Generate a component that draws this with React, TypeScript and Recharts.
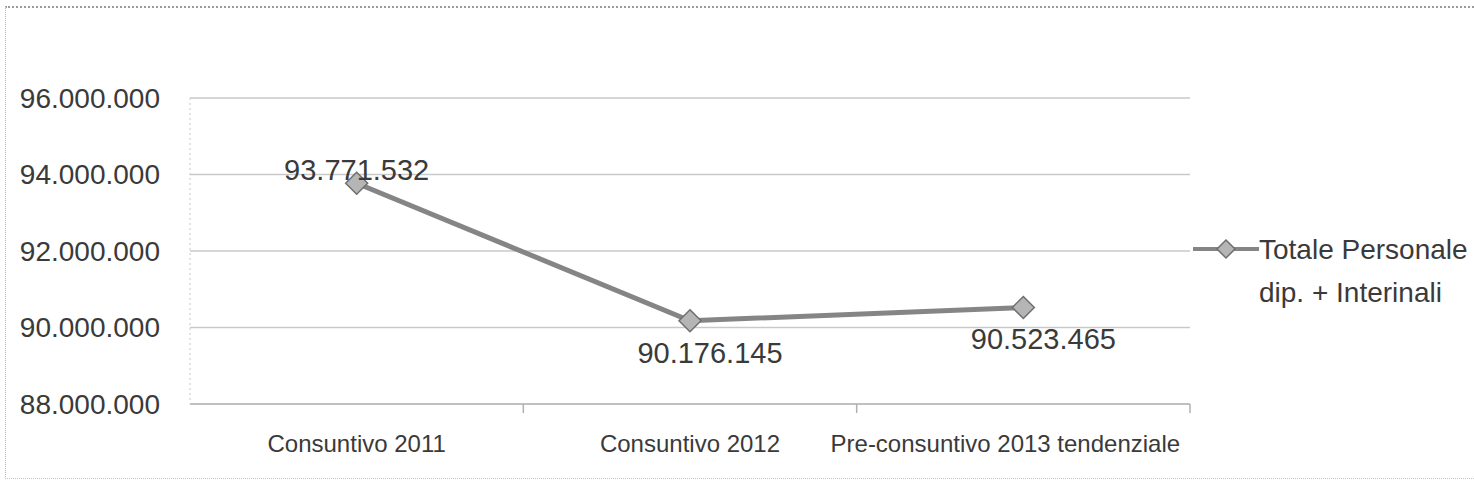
import {
  LineChart,
  Line,
  XAxis,
  YAxis,
  CartesianGrid,
  Legend,
  LabelList,
} from "recharts";

const categories = ["Consuntivo 2011", "Consuntivo 2012", "Pre-consuntivo 2013 tendenziale"];
const totals = [93771532, 90176145, 90523465];
const yTicks = [88000000, 90000000, 92000000, 94000000, 96000000];
const xTicks = [0, 0.5, 1, 1.5, 2, 2.5, 3];
const seriesName = "Totale Personale dip. + Interinali";
const legendLines = ["Totale Personale", "dip. + Interinali"];

const data = categories.map((cat, i) => ({ cat, pos: i + 0.5, value: totals[i] }));

const TEXT = "#3a3a3a";
const LINE = "#858585";
const GRID = "#c9c9c9";
const NUM_FONT = "'Liberation Sans', Arial, sans-serif";

function formatIt(v: number): string {
  return Math.round(v)
    .toString()
    .replace(/\B(?=(\d{3})+(?!\d))/g, ".");
}

function Diamond({ cx, cy, size = 11 }: { cx?: number; cy?: number; size?: number }) {
  if (cx == null || cy == null) return null;
  const s = size;
  const pts = `${cx},${cy - s} ${cx + s},${cy} ${cx},${cy + s} ${cx - s},${cy}`;
  return <polygon points={pts} fill="#b5b5b5" stroke="#6f6f6f" strokeWidth={1.5} />;
}

function XTick(props: any) {
  const { x, y, payload } = props;
  const v = payload.value as number;
  if (Number.isInteger(v)) {
    if (v === 0) return null;
    return <line x1={x} y1={y} x2={x} y2={y + 9} stroke="#b0b0b0" strokeWidth={1.5} />;
  }
  const label = categories[Math.floor(v)];
  // the long last label sits a bit left of its slot in the original
  const shift = label.length > 20 ? -18 : 0;
  return (
    <text
      x={x + shift}
      y={y + 48}
      textAnchor="middle"
      fontFamily={NUM_FONT}
      fontSize={24}
      fill={TEXT}
    >
      {label}
    </text>
  );
}

function ValueLabel(props: any) {
  const { x, y, value, index } = props;
  const above = index === 0;
  return (
    <text
      x={x + (above ? 0 : 20)}
      y={above ? y - 3 : y + 42}
      textAnchor="middle"
      fontFamily={NUM_FONT}
      fontSize={29}
      fill={TEXT}
    >
      {formatIt(Number(value))}
    </text>
  );
}

function LegendBox() {
  return (
    <div style={{ display: "flex", alignItems: "flex-start", fontFamily: NUM_FONT, color: TEXT }}>
      <svg width={66} height={30}>
        <line x1={0} y1={15} x2={66} y2={15} stroke={LINE} strokeWidth={4} />
        <Diamond cx={33} cy={15} size={9} />
      </svg>
      <div style={{ fontSize: 28, lineHeight: "43px", marginTop: -6, whiteSpace: "nowrap" }}>
        <div>{legendLines[0]}</div>
        <div>{legendLines[1]}</div>
      </div>
    </div>
  );
}

export default function App() {
  return (
    <div
      style={{
        position: "absolute",
        left: 0,
        top: 0,
        width: 1474,
        height: 495,
        background: "#fff",
        overflow: "hidden",
      }}
    >
      <div
        style={{
          position: "absolute",
          left: 5,
          top: 6,
          width: 1480,
          height: 470,
          borderTop: "2px dotted #9a9a9a",
          borderLeft: "1px dotted #b5b5b5",
          borderBottom: "1px dotted #c5c5c5",
        }}
      />
      <LineChart
        width={1474}
        height={495}
        data={data}
        margin={{ top: 98, right: 284, bottom: 0, left: 0 }}
      >
        <CartesianGrid horizontal vertical={false} stroke={GRID} strokeWidth={1.5} />
        <XAxis
          dataKey="pos"
          type="number"
          domain={[0, 3]}
          ticks={xTicks}
          interval={0}
          tick={<XTick />}
          tickLine={false}
          tickSize={0}
          tickMargin={0}
          axisLine={{ stroke: "#b8b8b8", strokeWidth: 1.5 }}
          height={91}
        />
        <YAxis
          domain={[88000000, 96000000]}
          ticks={yTicks}
          width={190}
          tickLine={false}
          tickSize={6}
          tickMargin={24}
          axisLine={{ stroke: "#c8c8c8", strokeWidth: 1, strokeDasharray: "2 3" }}
          tickFormatter={formatIt}
          tick={{ fontSize: 28, fill: TEXT, fontFamily: NUM_FONT }}
          allowDataOverflow
        />
        <Legend
          layout="vertical"
          align="center"
          verticalAlign="middle"
          content={<LegendBox />}
          wrapperStyle={{ left: 1193, top: 234, width: 300 }}
        />
        <Line
          name={seriesName}
          dataKey="value"
          stroke={LINE}
          strokeWidth={5}
          dot={<Diamond />}
          activeDot={false}
          isAnimationActive={false}
        >
          <LabelList dataKey="value" content={<ValueLabel />} />
        </Line>
      </LineChart>
    </div>
  );
}
